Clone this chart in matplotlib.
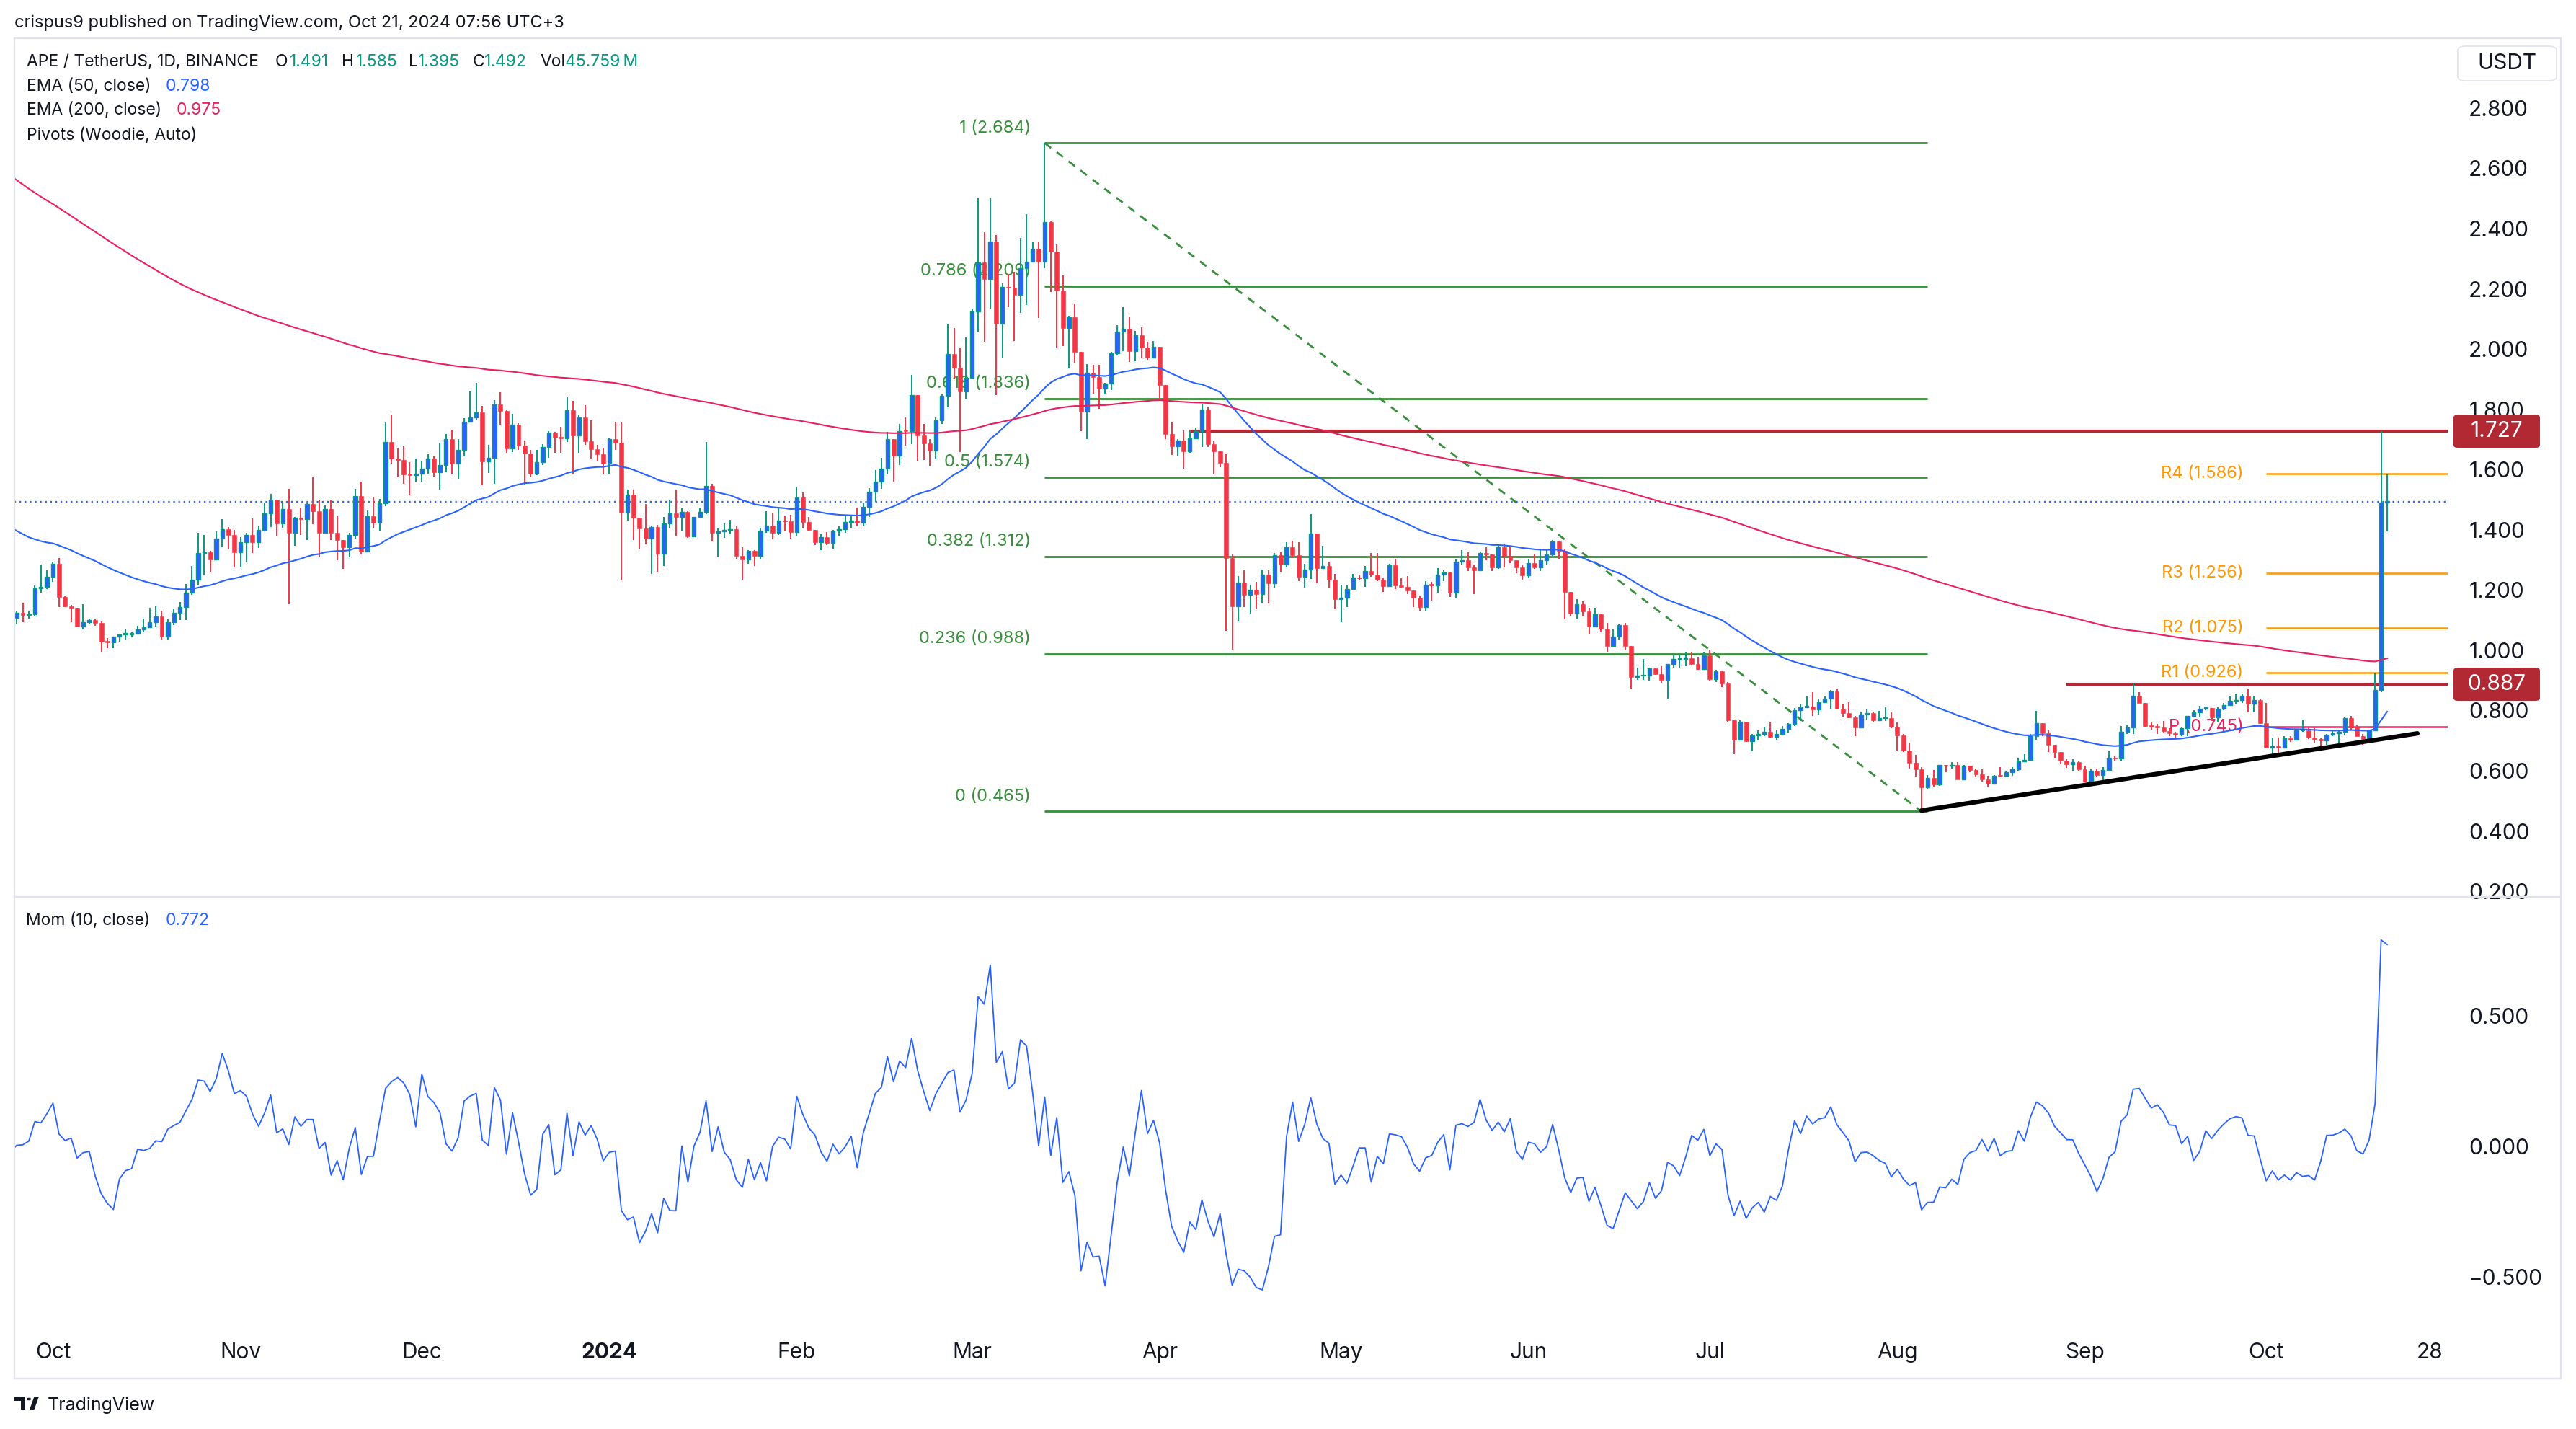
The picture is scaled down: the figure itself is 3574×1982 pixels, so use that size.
import numpy as np
import pandas as pd
import matplotlib
matplotlib.use("Agg")
import matplotlib.pyplot as plt
import matplotlib.dates as mdates
from matplotlib.patches import FancyBboxPatch, Rectangle, Polygon, Circle

plt.rcParams['font.family'] = ['Inter', 'DejaVu Sans']

# ---- APE / USDT daily candles, 24 Sep 2023 -> 21 Oct 2024 ----
# closes before the first drawn candle (14-23 Sep 2023), only used for Mom(10)
close_before = [1.13, 1.12, 1.11, 1.10, 1.11, 1.12, 1.12, 1.12, 1.13, 1.124]

close = [
    1.108, 1.124, 1.116, 1.120, 1.205, 1.210, 1.245,
    1.286, 1.177, 1.146, 1.140, 1.079, 1.092, 1.100, 1.090, 1.028, 1.026, 1.044, 1.052, 1.053, 1.054, 1.068, 1.076, 1.092, 1.111, 1.046, 1.092, 1.124, 1.144, 1.190, 1.234, 1.322, 1.326, 1.302, 1.370, 1.402, 1.382, 1.326,
    1.358, 1.382, 1.358, 1.399, 1.454, 1.499, 1.422, 1.469, 1.389, 1.439, 1.435, 1.485, 1.461, 1.391, 1.469, 1.389, 1.367, 1.341, 1.382, 1.511, 1.327, 1.446, 1.423, 1.487, 1.691, 1.637, 1.631, 1.584, 1.581, 1.586,
    1.604, 1.637, 1.591, 1.616, 1.701, 1.619, 1.664, 1.758, 1.774, 1.789, 1.628, 1.640, 1.816, 1.794, 1.671, 1.748, 1.680, 1.652, 1.587, 1.624, 1.675, 1.723, 1.707, 1.704, 1.798, 1.712, 1.774, 1.695, 1.667, 1.651, 1.620,
    1.700, 1.689, 1.458, 1.517, 1.441, 1.405, 1.370, 1.409, 1.320, 1.421, 1.454, 1.442, 1.459, 1.379, 1.442, 1.459, 1.545, 1.389, 1.395, 1.399, 1.403, 1.314, 1.302, 1.329, 1.314, 1.397, 1.413, 1.389, 1.430, 1.427, 1.393,
    1.506, 1.425, 1.399, 1.358, 1.376, 1.356, 1.397, 1.401, 1.425, 1.431, 1.424, 1.477, 1.526, 1.561, 1.602, 1.700, 1.645, 1.728, 1.727, 1.846, 1.714, 1.687, 1.663, 1.763, 1.844, 1.983, 1.938, 1.859, 1.905,
    2.125, 2.287, 2.232, 2.358, 2.085, 2.207, 2.203, 2.180, 2.268, 2.289, 2.332, 2.289, 2.421, 2.323, 2.195, 2.069, 2.106, 1.991, 1.791, 1.922, 1.908, 1.868, 1.886, 1.985, 2.058, 2.067, 1.993, 2.046, 2.005, 1.971, 2.008,
    1.881, 1.718, 1.678, 1.696, 1.661, 1.703, 1.727, 1.800, 1.684, 1.661, 1.623, 1.305, 1.146, 1.225, 1.184, 1.201, 1.186, 1.250, 1.222, 1.316, 1.284, 1.343, 1.316, 1.244, 1.268, 1.387, 1.272, 1.280, 1.234, 1.170,
    1.174, 1.202, 1.241, 1.238, 1.262, 1.250, 1.234, 1.213, 1.282, 1.214, 1.211, 1.198, 1.174, 1.143, 1.218, 1.215, 1.250, 1.258, 1.192, 1.295, 1.298, 1.274, 1.266, 1.323, 1.319, 1.276, 1.343, 1.314, 1.298, 1.276, 1.248,
    1.290, 1.276, 1.300, 1.318, 1.360, 1.330, 1.193, 1.121, 1.154, 1.129, 1.079, 1.119, 1.072, 1.015, 1.045, 1.084, 1.015, 0.912, 0.915, 0.917, 0.940, 0.920, 0.902, 0.954, 0.970, 0.972, 0.974, 0.954, 0.938, 0.982,
    0.904, 0.930, 0.890, 0.767, 0.704, 0.762, 0.698, 0.718, 0.723, 0.730, 0.712, 0.723, 0.738, 0.755, 0.802, 0.811, 0.814, 0.804, 0.828, 0.840, 0.863, 0.806, 0.791, 0.776, 0.743, 0.787, 0.792, 0.768, 0.774, 0.775, 0.746,
    0.718, 0.666, 0.626, 0.604, 0.544, 0.577, 0.554, 0.618, 0.616, 0.620, 0.572, 0.616, 0.602, 0.588, 0.570, 0.558, 0.584, 0.582, 0.596, 0.604, 0.632, 0.636, 0.714, 0.758, 0.725, 0.685, 0.661, 0.634, 0.622, 0.629, 0.604,
    0.565, 0.599, 0.585, 0.602, 0.643, 0.640, 0.730, 0.743, 0.848, 0.826, 0.749, 0.746, 0.744, 0.732, 0.725, 0.720, 0.740, 0.781, 0.794, 0.806, 0.809, 0.776, 0.806, 0.818, 0.831, 0.834, 0.849, 0.823, 0.834, 0.758,
    0.677, 0.682, 0.677, 0.708, 0.702, 0.733, 0.734, 0.711, 0.705, 0.700, 0.719, 0.725, 0.728, 0.774, 0.743, 0.716, 0.705, 0.734, 0.868, 1.491, 1.492,
]

high = [
    1.128, 1.128, 1.158, 1.132, 1.216, 1.284, 1.265,
    1.293, 1.306, 1.182, 1.150, 1.142, 1.154, 1.104, 1.102, 1.096, 1.040, 1.046, 1.054, 1.068, 1.059, 1.080, 1.104, 1.140, 1.148, 1.132, 1.102, 1.138, 1.160, 1.220, 1.280, 1.390, 1.382, 1.331, 1.395, 1.435, 1.410, 1.399,
    1.375, 1.391, 1.438, 1.414, 1.491, 1.519, 1.501, 1.487, 1.535, 1.442, 1.473, 1.489, 1.576, 1.497, 1.481, 1.501, 1.445, 1.367, 1.390, 1.535, 1.559, 1.466, 1.509, 1.503, 1.756, 1.782, 1.669, 1.677, 1.624, 1.636,
    1.627, 1.651, 1.645, 1.688, 1.719, 1.731, 1.701, 1.770, 1.861, 1.888, 1.810, 1.681, 1.830, 1.857, 1.797, 1.786, 1.753, 1.696, 1.665, 1.665, 1.684, 1.728, 1.724, 1.741, 1.840, 1.828, 1.780, 1.813, 1.766, 1.683, 1.673,
    1.703, 1.759, 1.756, 1.533, 1.533, 1.441, 1.486, 1.414, 1.415, 1.443, 1.497, 1.533, 1.474, 1.462, 1.443, 1.474, 1.691, 1.553, 1.406, 1.421, 1.434, 1.414, 1.342, 1.333, 1.333, 1.406, 1.462, 1.454, 1.474, 1.446, 1.450,
    1.541, 1.525, 1.442, 1.399, 1.387, 1.393, 1.399, 1.411, 1.449, 1.449, 1.473, 1.489, 1.538, 1.598, 1.639, 1.724, 1.700, 1.751, 1.773, 1.914, 1.846, 1.751, 1.700, 1.773, 1.849, 2.085, 2.069, 2.005, 2.042,
    2.134, 2.501, 2.387, 2.501, 2.378, 2.219, 2.250, 2.256, 2.368, 2.448, 2.354, 2.354, 2.684, 2.427, 2.348, 2.244, 2.110, 2.152, 1.991, 1.950, 1.948, 1.948, 1.887, 1.991, 2.079, 2.140, 2.109, 2.060, 2.073, 2.024, 2.027,
    2.008, 1.881, 1.758, 1.700, 1.730, 1.730, 1.739, 1.818, 1.806, 1.693, 1.661, 1.653, 1.317, 1.247, 1.266, 1.218, 1.226, 1.268, 1.266, 1.324, 1.326, 1.359, 1.363, 1.359, 1.286, 1.452, 1.387, 1.347, 1.292, 1.254,
    1.218, 1.214, 1.254, 1.250, 1.280, 1.322, 1.322, 1.238, 1.288, 1.304, 1.238, 1.246, 1.198, 1.182, 1.230, 1.226, 1.272, 1.266, 1.258, 1.302, 1.332, 1.326, 1.284, 1.328, 1.343, 1.318, 1.347, 1.352, 1.347, 1.298, 1.282,
    1.302, 1.320, 1.334, 1.334, 1.366, 1.363, 1.334, 1.193, 1.170, 1.165, 1.141, 1.141, 1.119, 1.091, 1.069, 1.087, 1.091, 1.015, 0.943, 0.970, 0.943, 0.942, 0.948, 0.955, 0.986, 0.986, 0.996, 0.994, 0.979, 0.994,
    1.002, 0.934, 0.932, 0.894, 0.771, 0.767, 0.762, 0.722, 0.734, 0.747, 0.762, 0.734, 0.748, 0.759, 0.808, 0.822, 0.846, 0.860, 0.836, 0.850, 0.867, 0.872, 0.822, 0.827, 0.782, 0.795, 0.804, 0.794, 0.798, 0.810, 0.795,
    0.760, 0.722, 0.690, 0.652, 0.612, 0.586, 0.602, 0.620, 0.620, 0.628, 0.628, 0.618, 0.614, 0.608, 0.604, 0.582, 0.586, 0.612, 0.598, 0.612, 0.642, 0.654, 0.722, 0.798, 0.759, 0.735, 0.687, 0.661, 0.638, 0.638, 0.630,
    0.617, 0.604, 0.608, 0.611, 0.668, 0.650, 0.749, 0.751, 0.892, 0.861, 0.826, 0.760, 0.755, 0.765, 0.741, 0.730, 0.743, 0.783, 0.801, 0.815, 0.813, 0.809, 0.810, 0.824, 0.846, 0.857, 0.857, 0.873, 0.848, 0.838,
    0.824, 0.709, 0.709, 0.714, 0.714, 0.734, 0.769, 0.744, 0.740, 0.707, 0.723, 0.734, 0.732, 0.778, 0.783, 0.751, 0.723, 0.737, 0.926, 1.727, 1.585,
]

low = [
    1.104, 1.088, 1.094, 1.104, 1.112, 1.192, 1.204,
    1.226, 1.144, 1.144, 1.094, 1.078, 1.068, 1.088, 1.080, 0.996, 1.006, 1.008, 1.028, 1.035, 1.046, 1.052, 1.060, 1.075, 1.078, 1.036, 1.036, 1.084, 1.100, 1.100, 1.184, 1.216, 1.252, 1.261, 1.300, 1.342, 1.334, 1.274,
    1.276, 1.293, 1.323, 1.340, 1.394, 1.410, 1.378, 1.407, 1.154, 1.346, 1.383, 1.365, 1.419, 1.312, 1.387, 1.367, 1.300, 1.269, 1.309, 1.371, 1.319, 1.326, 1.407, 1.398, 1.479, 1.620, 1.575, 1.553, 1.515, 1.561,
    1.561, 1.587, 1.574, 1.533, 1.591, 1.585, 1.569, 1.644, 1.756, 1.766, 1.547, 1.589, 1.553, 1.748, 1.656, 1.659, 1.665, 1.551, 1.573, 1.581, 1.615, 1.639, 1.655, 1.656, 1.692, 1.583, 1.656, 1.681, 1.635, 1.628, 1.587,
    1.583, 1.664, 1.233, 1.431, 1.366, 1.338, 1.352, 1.254, 1.261, 1.280, 1.406, 1.381, 1.397, 1.373, 1.378, 1.439, 1.451, 1.362, 1.312, 1.374, 1.386, 1.304, 1.234, 1.288, 1.280, 1.302, 1.390, 1.369, 1.382, 1.398, 1.371,
    1.378, 1.406, 1.398, 1.348, 1.333, 1.350, 1.338, 1.379, 1.391, 1.406, 1.412, 1.412, 1.443, 1.492, 1.535, 1.583, 1.559, 1.614, 1.679, 1.684, 1.630, 1.632, 1.612, 1.635, 1.751, 1.806, 1.901, 1.657, 1.832,
    1.905, 2.057, 2.024, 2.134, 1.846, 1.972, 2.140, 2.027, 2.121, 2.146, 2.287, 2.103, 2.268, 2.189, 2.003, 2.011, 1.936, 1.954, 1.728, 1.702, 1.853, 1.801, 1.850, 1.865, 1.978, 1.993, 1.956, 1.960, 1.969, 1.963, 1.969,
    1.834, 1.700, 1.648, 1.645, 1.602, 1.655, 1.700, 1.675, 1.675, 1.583, 1.608, 1.064, 1.003, 1.098, 1.144, 1.121, 1.137, 1.158, 1.155, 1.206, 1.260, 1.274, 1.306, 1.229, 1.208, 1.237, 1.222, 1.270, 1.205, 1.136,
    1.093, 1.143, 1.200, 1.234, 1.210, 1.244, 1.230, 1.193, 1.210, 1.202, 1.206, 1.186, 1.143, 1.132, 1.128, 1.166, 1.190, 1.230, 1.178, 1.172, 1.284, 1.262, 1.186, 1.262, 1.300, 1.264, 1.270, 1.276, 1.290, 1.256, 1.234,
    1.240, 1.270, 1.262, 1.284, 1.314, 1.302, 1.103, 1.115, 1.103, 1.111, 1.052, 1.076, 1.059, 0.995, 1.011, 1.033, 0.999, 0.872, 0.902, 0.902, 0.899, 0.918, 0.892, 0.839, 0.942, 0.943, 0.947, 0.950, 0.935, 0.935,
    0.900, 0.894, 0.878, 0.762, 0.654, 0.702, 0.696, 0.664, 0.700, 0.715, 0.710, 0.704, 0.722, 0.726, 0.748, 0.766, 0.808, 0.782, 0.786, 0.827, 0.806, 0.803, 0.779, 0.774, 0.714, 0.740, 0.771, 0.760, 0.766, 0.766, 0.740,
    0.668, 0.662, 0.608, 0.580, 0.465, 0.540, 0.548, 0.550, 0.594, 0.606, 0.570, 0.568, 0.594, 0.578, 0.564, 0.548, 0.556, 0.578, 0.578, 0.584, 0.600, 0.628, 0.634, 0.704, 0.714, 0.662, 0.640, 0.622, 0.610, 0.599, 0.597,
    0.562, 0.562, 0.581, 0.567, 0.600, 0.631, 0.631, 0.721, 0.721, 0.824, 0.747, 0.737, 0.721, 0.725, 0.716, 0.705, 0.714, 0.714, 0.777, 0.778, 0.801, 0.765, 0.760, 0.801, 0.815, 0.820, 0.824, 0.795, 0.795, 0.755,
    0.673, 0.654, 0.652, 0.675, 0.696, 0.700, 0.728, 0.705, 0.694, 0.673, 0.687, 0.714, 0.691, 0.719, 0.733, 0.714, 0.687, 0.703, 0.734, 0.861, 1.395,
]

# EMA values on 23 Sep 2023 (start of the visible lines)
ema50_seed = 1.42
ema200_seed = 2.59

# values printed in the legends
legend_ohlc = [('O', '1.491'), ('H', '1.585'), ('L', '1.395'), ('C', '1.492'), ('Vol', '45.759\u2009M')]
ema50_label = '0.798'
ema200_label = '0.975'
mom_label = '0.772'

# Fibonacci retracement, 13 Mar 2024 high -> 5 Aug 2024 low
fib_ratios = [1, 0.786, 0.618, 0.5, 0.382, 0.236, 0]
fib_prices = [2.684, 2.209, 1.836, 1.574, 1.312, 0.988, 0.465]

# Woodie monthly pivots for October 2024
pivot_names = ['R4', 'R3', 'R2', 'R1', 'P']
pivot_values = [1.586, 1.256, 1.075, 0.926, 0.745]

# horizontal levels and their start dates
levels = [1.727, 0.887]
level_starts = ['2024-04-06', '2024-08-29']
last_price = 1.492

TEXT = '#131722'
UP = '#089981'
UPFILL = '#2962ff'
DOWN = '#f23645'
BLUE = '#2962ff'
PINK = '#ec1f5e'
FIB = '#388e3c'
ORANGE = '#ff9800'
LEVEL = '#b22833'
BORDER = '#e0e3eb'

W, H = 3574, 1982


def fx(px):
    return px / W


def fy(py):
    return 1 - py / H


def ema(values, length, seed):
    k = 2 / (length + 1)
    out, prev = [], seed
    for v in values:
        prev = prev + k * (v - prev)
        out.append(prev)
    return np.array(out)


def d(s):
    return mdates.date2num(pd.Timestamp(s))


dates = pd.date_range('2023-09-24', periods=len(close), freq='D')
x = mdates.date2num(dates)
c = np.array(close)
o = np.array([close_before[-1]] + close[:-1])
h = np.maximum(np.array(high), np.maximum(o, c))
l = np.minimum(np.array(low), np.minimum(o, c))

ema50 = ema(close, 50, ema50_seed)
ema200 = ema(close, 200, ema200_seed)
allc = np.array(close_before + close)
mom = allc[10:] - allc[:-10]

last_day = d('2024-10-21')
px_day = 8.39
xlim = (last_day - (3312 - 20) / px_day, last_day + (3396 - 3312) / px_day)

fig = plt.figure(figsize=(W / 100, H / 100), dpi=100)
fig.patch.set_facecolor('white')

ax = fig.add_axes([fx(20), fy(1244), fx(3396 - 20), (1244 - 53) / H])
axm = fig.add_axes([fx(20), fy(1848), fx(3396 - 20), (1848 - 1244) / H])

for a in (ax, axm):
    a.set_xlim(*xlim)
    for s in a.spines.values():
        s.set_visible(False)
    a.yaxis.tick_right()
    a.tick_params(axis='y', length=0, pad=21, labelsize=21.5, labelcolor=TEXT)
    a.set_facecolor('none')

ax.set_ylim(0.181, 3.032)
yt = np.round(np.arange(0.2, 2.81, 0.2), 1)
ax.set_yticks(yt)
ax.set_yticklabels([f'{v:.3f}' for v in yt])
ax.set_xticks([])

# ---- candles ----
up = c >= o
body_low = np.minimum(o, c)
body_h = np.maximum(np.abs(c - o), 0.004)
ax.vlines(x[up], l[up], h[up], color=UP, lw=1.4, zorder=4)
ax.vlines(x[~up], l[~up], h[~up], color=DOWN, lw=1.4, zorder=4)
ax.bar(x[up], body_h[up], bottom=body_low[up], width=0.64, color=UPFILL,
       edgecolor=UP, linewidth=1.0, zorder=5)
ax.bar(x[~up], body_h[~up], bottom=body_low[~up], width=0.7, color=DOWN,
       edgecolor=DOWN, linewidth=0.4, zorder=5)

# ---- EMAs ----
ax.plot(x, ema50, color=BLUE, lw=1.5, zorder=6)
ax.plot(x, ema200, color=PINK, lw=1.5, zorder=6)

# ---- current price line ----
ax.axhline(last_price, color=BLUE, lw=1.6, ls=(0, (1, 2.2)), zorder=2)

# ---- fibonacci ----
fib_start, fib_end = d('2024-03-13'), d('2024-08-06')
for r, p in zip(fib_ratios, fib_prices):
    ax.hlines(p, fib_start, fib_end, color=FIB, lw=2.0, zorder=1)
    ax.annotate(f'{r:g} ({p:.3f})', xy=(fib_start, p), xytext=(-14, 7),
                textcoords='offset points', ha='right', va='bottom',
                fontsize=17, color=FIB, zorder=1.5)
ax.plot([fib_start, d('2024-08-05')], [fib_prices[0], fib_prices[-1]],
        color=FIB, lw=2.0, ls=(0, (4, 3.5)), zorder=1)

# ---- pivots ----
piv_start, piv_end = d('2024-10-01'), d('2024-11-01')
for name, p in zip(pivot_names, pivot_values):
    col = PINK if name == 'P' else ORANGE
    ax.hlines(p, piv_start, piv_end, color=col, lw=1.8, zorder=1)
    ax.annotate(f'{name} ({p:.3f})', xy=(piv_start, p), xytext=(-23, 0),
                textcoords='offset points', ha='right', va='center',
                fontsize=17, color=col, zorder=1.5)

# ---- support / resistance levels ----
for p, s in zip(levels, level_starts):
    ax.hlines(p, d(s), xlim[1] + 5, color=LEVEL, lw=3.0, zorder=2)
    ypx = ax.transData.transform((xlim[0], p))[1]
    fig.patches.append(FancyBboxPatch((3404 / W, (ypx - 23) / H), 120 / W, 46 / H,
                                      boxstyle='round,pad=0,rounding_size=0.002',
                                      transform=fig.transFigure, facecolor=LEVEL,
                                      edgecolor='none', zorder=20))
    fig.text(fx(3464), ypx / H, f'{p:.3f}', color='white', fontsize=21.5,
             ha='center', va='center', zorder=21)

# ---- rising trend line ----
ax.plot([d('2024-08-05'), d('2024-10-26')], [0.468, 0.724], color='black',
        lw=4.5, solid_capstyle='round', zorder=7)

# ---- momentum ----
axm.plot(x, mom, color=BLUE, lw=1.3)
axm.set_ylim(-0.713, 0.956)
axm.set_yticks([0.5, 0.0, -0.5])
axm.set_yticklabels(['0.500', '0.000', '\u22120.500'])

month_ticks = ['2023-10-01', '2023-11-01', '2023-12-01', '2024-01-01', '2024-02-01',
               '2024-03-01', '2024-04-01', '2024-05-01', '2024-06-01', '2024-07-01',
               '2024-08-01', '2024-09-01', '2024-10-01', '2024-10-28']
month_labels = ['Oct', 'Nov', 'Dec', '2024', 'Feb', 'Mar', 'Apr', 'May', 'Jun',
                'Jul', 'Aug', 'Sep', 'Oct', '28']
axm.set_xticks([d(t) for t in month_ticks])
axm.set_xticklabels(month_labels)
axm.tick_params(axis='x', length=0, pad=10, labelsize=21.5, labelcolor=TEXT)
axm.get_xticklabels()[3].set_fontweight('bold')

# ---- frame ----
for (x0, y0, x1, y1) in [(20, 53, 3553, 53), (20, 1912, 3553, 1912), (20, 53, 20, 1912),
                         (3553, 53, 3553, 1912), (20, 1244, 3553, 1244)]:
    fig.add_artist(plt.Line2D([fx(x0), fx(x1)], [fy(y0), fy(y1)], color=BORDER, lw=1.6))

# USDT box
fig.patches.append(FancyBboxPatch((fx(3410), fy(112)), 137 / W, 48 / H,
                                  boxstyle='round,pad=0,rounding_size=0.003',
                                  transform=fig.transFigure, facecolor='white',
                                  edgecolor=BORDER, lw=1.2))
fig.text(fx(3478), fy(88), 'USDT', fontsize=21.5, color=TEXT, ha='center', va='center')

# ---- header and legends ----
fig.text(fx(20), fy(32), 'crispus9 published on TradingView.com, Oct 21, 2024 07:56 UTC+3',
         fontsize=17, color=TEXT, va='center')
fig.text(fx(37), fy(86), 'APE / TetherUS, 1D, BINANCE', fontsize=16.5, color=TEXT, va='center')
for (key, val), kx, vx in zip(legend_ohlc, [382, 474, 567, 656, 749], [402, 494, 580, 672, 784]):
    fig.text(fx(kx), fy(86), key, fontsize=16.5, color=TEXT, va='center')
    fig.text(fx(vx), fy(86), val, fontsize=16.5, color=UP, va='center')
fig.text(fx(37), fy(120), 'EMA (50, close)', fontsize=16.5, color=TEXT, va='center')
fig.text(fx(230), fy(120), ema50_label, fontsize=16.5, color=BLUE, va='center')
fig.text(fx(37), fy(153), 'EMA (200, close)', fontsize=16.5, color=TEXT, va='center')
fig.text(fx(245), fy(153), ema200_label, fontsize=16.5, color=PINK, va='center')
fig.text(fx(37), fy(188), 'Pivots (Woodie, Auto)', fontsize=16.5, color=TEXT, va='center')
fig.text(fx(36), fy(1277), 'Mom (10, close)', fontsize=16.5, color=TEXT, va='center')
fig.text(fx(230), fy(1277), mom_label, fontsize=16.5, color=BLUE, va='center')

# ---- TradingView logo ----
logo = [Rectangle((fx(20), fy(1943)), 15 / W, 6 / H),
        Rectangle((fx(29), fy(1955)), 6 / W, 18 / H),
        Polygon([(fx(41), fy(1955)), (fx(47.5), fy(1955)), (fx(54), fy(1937)), (fx(47.5), fy(1937))])]
for pch in logo:
    pch.set_transform(fig.transFigure)
    pch.set_facecolor(TEXT)
    pch.set_edgecolor('none')
    fig.patches.append(pch)
fig.patches.append(Circle((fx(40), fy(1940.5)), 3.2 / W, transform=fig.transFigure,
                          facecolor=TEXT, edgecolor='none'))
fig.text(fx(66), fy(1949), 'TradingView', fontsize=18, color=TEXT, va='center')

fig.savefig('out.png', dpi=100, facecolor='white')
